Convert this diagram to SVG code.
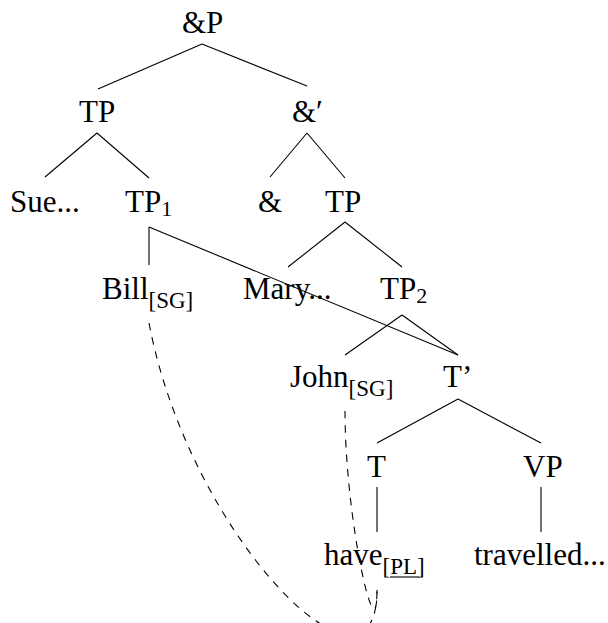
<svg xmlns="http://www.w3.org/2000/svg" width="608" height="623" viewBox="0 0 608 623">
<style>
text{font-family:"Liberation Serif","Times New Roman",serif;font-size:31px;fill:#000}
.sub{font-size:23px}
.num{font-size:22px}
.e{stroke:#000;stroke-width:1.1;fill:none}
.d{stroke:#000;stroke-width:1.1;fill:none;stroke-dasharray:7.5 7}
</style>
<rect width="608" height="623" fill="#fff"/>
<g id="connectors">
<line class="e" x1="202" y1="44" x2="98" y2="89"/>
<line class="e" x1="202" y1="44" x2="307" y2="86"/>
<line class="e" x1="97" y1="133" x2="45" y2="177"/>
<line class="e" x1="97" y1="133" x2="149" y2="178"/>
<line class="e" x1="307" y1="133" x2="270" y2="177"/>
<line class="e" x1="307" y1="133" x2="345" y2="178"/>
<line class="e" x1="149" y1="227" x2="149" y2="265"/>
<line class="e" x1="149" y1="227" x2="458" y2="355"/>
<line class="e" x1="345" y1="222" x2="288" y2="267"/>
<line class="e" x1="345" y1="222" x2="402" y2="267"/>
<line class="e" x1="402" y1="315" x2="345" y2="355"/>
<line class="e" x1="402" y1="315" x2="458" y2="355"/>
<line class="e" x1="458" y1="399" x2="377" y2="443"/>
<line class="e" x1="458" y1="399" x2="541" y2="443"/>
<line class="e" x1="377" y1="487" x2="377" y2="532"/>
<line class="e" x1="541" y1="487" x2="541" y2="532"/>
<path class="d" d="M149,323 C190,540 377,722 377,590"/>
<path class="d" d="M345,411 C345,520 377,660 377,590"/>
</g>
<g id="andP"><text x="182" y="33">&amp;P</text></g>
<g id="TP-left"><text x="79" y="121.5">TP</text></g>
<g id="andBar"><text x="292" y="121.5">&amp;′</text></g>
<g id="Sue"><text x="10" y="212">Sue...</text></g>
<g id="TP1"><text x="125" y="212">TP<tspan class="num" dy="4">1</tspan></text></g>
<g id="and"><text x="258" y="212">&amp;</text></g>
<g id="TP-right"><text x="325" y="212">TP</text></g>
<g id="Bill"><text x="102" y="299">Bill<tspan class="sub" dy="8.5">[SG]</tspan></text></g>
<g id="Mary"><text x="243" y="299">Mary...</text></g>
<g id="TP2"><text x="380" y="299">TP<tspan class="num" dy="4">2</tspan></text></g>
<g id="John"><text x="290" y="387">John<tspan class="sub" dy="8.5">[SG]</tspan></text></g>
<g id="Tbar"><text x="443" y="387">T’</text></g>
<g id="T"><text x="367" y="477">T</text></g>
<g id="VP"><text x="523" y="477">VP</text></g>
<g id="have"><text x="324" y="565">have<tspan class="sub" dy="8.5">[PL]</tspan></text>
<line class="e" x1="390" y1="577" x2="419" y2="577"/></g>
<g id="travelled"><text x="474" y="565">travelled...</text></g>
</svg>
